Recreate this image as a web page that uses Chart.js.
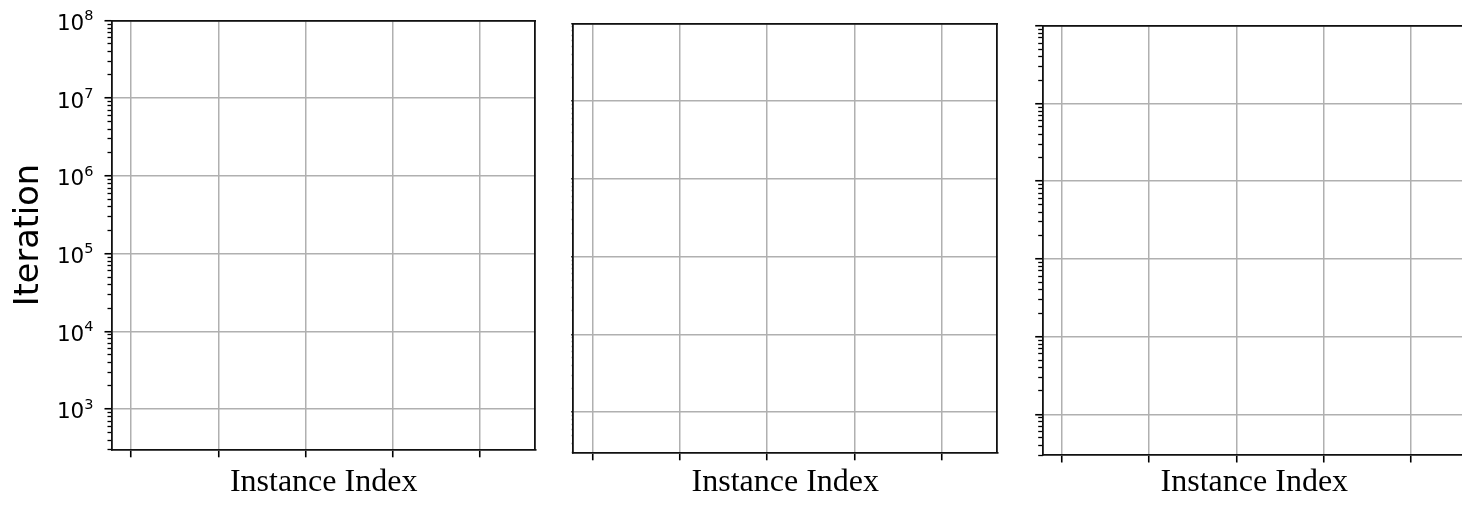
<!DOCTYPE html>
<html><head><meta charset="utf-8">
<script src="https://cdn.jsdelivr.net/npm/chart.js@4/dist/chart.umd.min.js"></script>
<style>
html,body{margin:0;padding:0;background:#fff;overflow:hidden;width:1462px;height:505px;position:relative;}
canvas{position:absolute;top:0;}
</style></head><body>
<canvas id="c0"></canvas><canvas id="c1"></canvas><canvas id="c2"></canvas>
<script>
// ---- data (the reference panels contain no plotted marks) ----
const panelIds = ['c0', 'c1', 'c2'];
const instanceIndex = [[], [], []];
const iterationValues = [[], [], []];
const xTickValues = [0, 1, 2, 3, 4];
const yMajorTicks = [1e3, 1e4, 1e5, 1e6, 1e7, 1e8];
const yTickBase = '10';
const yTickExponents = ['3', '4', '5', '6', '7', '8'];
const yMinorTicks = [300, 400, 500, 600, 700, 800, 900,
  2000, 3000, 4000, 5000, 6000, 7000, 8000, 9000,
  20000, 30000, 40000, 50000, 60000, 70000, 80000, 90000,
  200000, 300000, 400000, 500000, 600000, 700000, 800000, 900000,
  2000000, 3000000, 4000000, 5000000, 6000000, 7000000, 8000000, 9000000,
  20000000, 30000000, 40000000, 50000000, 60000000, 70000000, 80000000, 90000000];
const yMin = 300, yMax = 1e8;
const xMin = -0.2176, xMax = 4.631;
const xTitle = 'Instance Index';
const yTitle = 'Iteration';

// ---- layout ----
const H = 505;
const panels = [
  {cx: 0,    cw: 550, L: 112,    T: 20.5, R: 535.3, B: 449.8, labels: true,  majorLen: 7.5, minorLen: 4.5},
  {cx: 550,  cw: 465, L: 573.3,  T: 23.4, R: 997.3, B: 452.8, labels: false, majorLen: 2,   minorLen: 1.5},
  {cx: 1015, cw: 460, L: 1042.7, T: 25.8, R: 1466,  B: 455,   labels: false, majorLen: 7.5, minorLen: 4.5}
];

Chart.defaults.font.family = '"DejaVu Sans"';
Chart.defaults.color = '#000';

const supLabels = {
  id: 'supLabels',
  afterDraw(chart, args, opts) {
    if (!opts.show) return;
    const ys = chart.scales.y, ctx = chart.ctx;
    const xEnd = chart.chartArea.left - 18.5;
    ctx.save();
    ctx.fillStyle = '#000';
    ctx.textAlign = 'right';
    ctx.textBaseline = 'alphabetic';
    yMajorTicks.forEach((v, i) => {
      const py = ys.getPixelForValue(v);
      ctx.font = '14.5px "DejaVu Sans"';
      const e = yTickExponents[i];
      ctx.fillText(e, xEnd, py - 0.3);
      const ew = ctx.measureText(e).width;
      ctx.font = '21.5px "DejaVu Sans"';
      ctx.fillText(yTickBase, xEnd - ew, py + 9.3);
    });
    ctx.restore();
  }
};

panels.forEach((p, i) => {
  const cv = document.getElementById(panelIds[i]);
  cv.width = p.cw; cv.height = H;
  cv.style.left = p.cx + 'px';
  cv.style.width = p.cw + 'px'; cv.style.height = H + 'px';
  const padR = p.cw - (p.R - p.cx);
  const gridCommon = {color: '#b0b0b0', lineWidth: 1.5, tickColor: '#000', tickWidth: 1.6};
  const borderCommon = {display: true, color: '#111', width: 1.8};
  new Chart(cv, {
    type: 'line',
    data: {datasets: [{data: instanceIndex[i].map((x, k) => ({x, y: iterationValues[i][k]})), borderColor: '#1f77b4'}]},
    plugins: [supLabels],
    options: {
      responsive: false, animation: false, devicePixelRatio: 1,
      layout: {padding: {left: 0, top: p.T, right: padR, bottom: 0}},
      plugins: {legend: {display: false}, tooltip: {enabled: false}, supLabels: {show: p.labels}},
      scales: {
        x: {
          type: 'linear', position: 'bottom', min: xMin, max: xMax,
          afterBuildTicks: s => { s.ticks = xTickValues.map(v => ({value: v})); },
          afterFit: s => { s.height = H - p.B; },
          grid: Object.assign({display: true, drawTicks: true, tickLength: 7.5}, gridCommon),
          border: borderCommon,
          ticks: {display: false},
          title: {display: true, text: xTitle, color: '#000',
                  font: {family: '"Liberation Serif"', size: 32}, padding: {top: 0, bottom: 3.5}}
        },
        y: {
          type: 'logarithmic', position: 'left', weight: 1, min: yMin, max: yMax,
          afterBuildTicks: s => { s.ticks = yMajorTicks.map(v => ({value: v})); },
          afterFit: s => { s.width = p.L - p.cx; },
          grid: Object.assign({display: true, drawTicks: true, tickLength: p.majorLen}, gridCommon),
          border: borderCommon,
          ticks: {display: false},
          title: {display: p.labels, text: yTitle, color: '#000',
                  font: {family: '"DejaVu Sans"', size: 33.5}, padding: {top: 9, bottom: 0}}
        },
        yMinor: {
          type: 'logarithmic', position: 'left', weight: 0, min: yMin, max: yMax,
          afterBuildTicks: s => { s.ticks = yMinorTicks.map(v => ({value: v})); },
          afterFit: s => { s.width = 0; },
          grid: {display: true, drawOnChartArea: false, drawTicks: true, tickLength: p.minorLen,
                 color: 'rgba(0,0,0,0)', tickColor: '#000', tickWidth: 1.3},
          border: {display: false},
          ticks: {display: false}
        },
        xTop: {
          type: 'linear', position: 'top', min: xMin, max: xMax,
          afterFit: s => { s.height = 0; },
          grid: {display: false}, border: borderCommon,
          ticks: {display: false}
        },
        yRight: {
          type: 'linear', position: 'right',
          afterFit: s => { s.width = 0; },
          grid: {display: false}, border: borderCommon,
          ticks: {display: false}
        }
      }
    }
  });
});
</script>
</body></html>
